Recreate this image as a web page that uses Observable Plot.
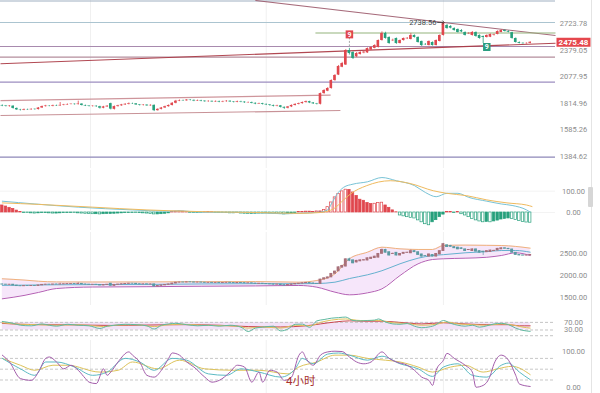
<!DOCTYPE html>
<html><head><meta charset="utf-8">
<script src="https://cdn.jsdelivr.net/npm/d3@7"></script>
<script src="https://cdn.jsdelivr.net/npm/@observablehq/plot@0.6"></script>
<style>
body{margin:0;background:#fff;}
#wrap{position:relative;width:600px;height:393px;overflow:hidden;background:#fff;font-family:Roboto,"Noto Sans CJK SC",sans-serif;}
.panel{position:absolute;left:0;}
.chrome{position:absolute;}
</style></head><body><div id="wrap"></div>
<script>
// ---------------- candle data (4h) ----------------
const opens = [1795,1790,1785,1789,1768,1755,1752,1758,1756,1760,
 1758,1772,1785,1790,1788,1794,1791,1796,1800,1804,
 1806,1803,1808,1795,1790,1786,1788,1784,1770,1782,
 1812,1760,1785,1792,1800,1806,1812,1810,1800,1795,
 1798,1792,1796,1748,1760,1772,1784,1795,1815,1835,
 1840,1838,1845,1842,1836,1840,1835,1830,1833,1828,
 1832,1826,1830,1834,1828,1824,1830,1826,1820,1822,
 1815,1808,1812,1805,1800,1795,1788,1792,1778,1770,
 1782,1795,1805,1812,1822,1830,1818,1810,
 1806,1907,1930,1957,2038,2095,2180,2205,2374,2350,
 2300,2326,2345,2345,2380,2400,2411,2498,2589,2537,
 2495,2524,2460,2498,2520,2511,2563,2537,2486,2448,
 2435,2473,2435,2486,2563,2696,2682,2655,2642,2628,
 2602,2585,2563,2602,2563,2550,2537,2540,2563,2576,
 2602,2628,2615,2600,2524,2473,2462,2458,2462];
const closes = [1790,1786,1789,1768,1755,1752,1758,1756,1760,1758,
 1772,1785,1790,1788,1794,1791,1796,1800,1804,1806,
 1803,1808,1795,1790,1786,1788,1784,1770,1782,1788,
 1762,1785,1792,1800,1806,1812,1810,1800,1795,1798,
 1792,1796,1748,1760,1772,1784,1795,1815,1835,1840,
 1838,1845,1842,1836,1840,1835,1830,1833,1828,1832,
 1826,1830,1834,1828,1824,1830,1826,1820,1822,1815,
 1808,1812,1805,1800,1795,1788,1792,1778,1770,1782,
 1795,1805,1812,1822,1830,1818,1810,1806,
 1907,1937,1957,2038,2091,2189,2222,2374,2338,2280,
 2338,2350,2355,2398,2411,2435,2498,2589,2524,2460,
 2500,2460,2498,2524,2526,2563,2537,2473,2435,2445,
 2486,2435,2498,2563,2724,2655,2660,2628,2602,2610,
 2563,2590,2602,2550,2524,2537,2563,2576,2570,2615,
 2628,2615,2605,2524,2473,2462,2458,2462,2475.48];
const highs = [1800,1795,1794,1792,1772,1760,1763,1762,1765,1764,
 1776,1790,1796,1794,1798,1798,1822,1805,1809,1811,
 1810,1835,1810,1798,1793,1793,1792,1788,1787,1794,
 1816,1790,1797,1805,1811,1818,1816,1813,1803,1803,
 1802,1801,1800,1765,1777,1789,1800,1822,1842,1846,
 1845,1850,1849,1846,1845,1843,1838,1838,1836,1837,
 1835,1835,1840,1838,1831,1835,1834,1829,1827,1826,
 1818,1816,1815,1808,1803,1798,1797,1795,1781,1786,
 1800,1810,1817,1827,1836,1834,1822,1814,
 1912,1945,1965,2045,2100,2200,2235,2385,2400,2360,
 2350,2360,2365,2405,2420,2445,2505,2610,2605,2545,
 2515,2530,2505,2530,2535,2590,2570,2545,2490,2460,
 2492,2480,2505,2570,2738.56,2710,2695,2665,2650,2640,
 2610,2600,2615,2610,2570,2555,2570,2582,2580,2625,
 2640,2640,2625,2605,2530,2480,2470,2468,2482];
const lows = [1784,1781,1780,1762,1750,1745,1748,1750,1752,1752,
 1754,1768,1780,1783,1783,1786,1787,1792,1796,1800,
 1798,1799,1790,1785,1781,1780,1778,1762,1765,1777,
 1755,1754,1780,1787,1795,1800,1804,1795,1790,1790,
 1786,1788,1740,1744,1755,1767,1779,1790,1810,1830,
 1832,1834,1837,1830,1832,1829,1824,1825,1822,1823,
 1820,1821,1825,1822,1818,1820,1820,1814,1814,1810,
 1802,1804,1799,1794,1788,1782,1783,1772,1760,1764,
 1776,1790,1800,1807,1816,1812,1804,1800,
 1800,1900,1925,1950,2030,2090,2175,2200,2320,2268,
 2290,2320,2335,2340,2375,2395,2405,2490,2515,2450,
 2485,2450,2455,2490,2510,2505,2530,2465,2423,2435,
 2430,2428,2430,2480,2555,2645,2650,2620,2595,2600,
 2555,2575,2555,2540,2515,2460,2530,2535,2555,2570,
 2598,2608,2598,2515,2465,2455,2452,2452,2456];

// price axis labels and drawn levels
const axisPrices = [2723.78, 2379.05, 2077.95, 1814.96, 1585.26, 1384.62];
const lastPrice = 2475.48;
const levelPrices = [3054, 2738.56, 2423, 2295, 2021, 1380];
const levelColors = ["#9fb0c2", "#abc4d0", "#a88aae", "#b48e9c", "#9c8ec0", "#8e87b8"];
const trendFrom = [[-0.5, 2219], [70, 3062], [-0.5, 1840], [-0.5, 1705]];
const trendTo   = [[153, 2464], [153, 2562], [90.8, 1892], [93.5, 1749]];
const trendColors = ["#a8343f", "#9c5a6c", "#c98a90", "#c2868c"];
const greenLevel = {from: 86.6, to: 153, p: 2595};
const markerIdx = [96, 134];
const markerPrice = [2577, 2417];
const markerColor = ["#e0474e", "#2a9d80"];
const gridIdx = [24.4, 73, 122];

// MACD
const macdHist = [33,28,22,17,9,2,
 -2,-3,-4,-5,-4,-3,-3,-4,-5,-5,-4,-3,-3,-2,-3,-4,-5,-6,-7,-8,-8,-9,-8,-7,-7,-6,-5,-4,-3,-3,-2,-3,-3,-4,-5,-7,-9,-9,-8,-6,-4,
 2,4,5,4,2,-1,-2,-2,-1,1,2,1,-1,-2,-3,-3,-4,-4,-3,-5,-6,-7,-7,-6,-5,-5,-4,-5,-6,-7,-8,-9,-8,-6,-3,2,3,4,4,3,5,
 5,12,25,47,71,87,99,107,106,94,78,60,55,45,40,41,45,46,33,22,
 10,1,-14,-18,-22,-25,-28,-37,-46,-55,-60,-46,-36,-22,-10,3,2,-2,2,-8,
 -14,-22,-30,-37,-42,-46,-44,-46,-42,-38,-33,-30,-28,-30,-35,-40,-44,-47,-48];
const difIdx = [0,9,21,36,46,49,51,55,65,78,83,88,90,91,92.5,94.4,97,101,105,109,114,117,120,123,126,129,134,138,141,145,146];
const difVal = [53,40,25,12,6,8,6,1,1,-6,-3,2,12,40,84,118,133,144,164,149,126,94,74,90,90,71,53,40,33,12,2];
const deaIdx = [0,10,25,40,55,70,82,88,91.6,94.4,96.3,100.8,107.3,112.8,119.2,122.9,128.4,134,139.6,145,146.5];
const deaVal = [45,38,25,12,4,0,-4,0,17,59,87,126,149,136,102,90,79,59,45,35,28];

// BOLL
const bollIdx = [0,6,10,15,25,40,55,70,82,87,92,96,101,105,110,115,119,122,128,134,138,142,146];
const bollUp  = [1924,1895,1868,1852,1850,1852,1858,1860,1846,1885,2038,2385,2537,2652,2614,2600,2600,2691,2700,2695,2691,2670,2630];
const bollMid = [1772,1778,1782,1786,1790,1795,1805,1812,1810,1815,1846,1930,2016,2110,2270,2399,2460,2480,2523,2550,2576,2576,2537];
const bollLow = [1463,1540,1610,1700,1735,1742,1752,1760,1770,1731,1616,1555,1601,1693,2000,2270,2369,2385,2399,2420,2461,2523,2461];

// RSI
const rsiBand = [30, 70];
const rsiGIdx = [0,3,5,8,11,13,15,18,21,24,27,29,31,34,37,40,42,44,46,48,51,54,57,60,63,66,68,70,72,75,77,79,81,83,85,87,89,91,93,95,97,99,101,103,104,106,108,110,112,114,116,118,120,121,122,124,126,128,130,132,134,136,138,140,142,144,146];
const rsiGVal = [75,65,55,52,62,55,50,60,55,52,38,50,55,60,58,52,35,55,62,65,58,52,55,50,55,45,22,40,45,50,25,35,60,61,44,78,85,92,95,98,80,78,80,82,88,72,62,60,64,50,42,46,58,72,80,65,55,50,55,45,52,62,65,58,40,28,23];
const rsiYIdx = [0,5,10,15,20,25,28,32,37,42,46,50,55,60,65,68,72,77,81,85,88,91,95,99,104,108,112,116,120,123,126,130,134,138,141,144,146];
const rsiYVal = [68,60,58,55,58,52,48,56,58,48,58,60,55,53,50,40,46,40,55,52,70,82,88,80,80,68,64,55,60,72,62,58,55,62,57,45,40];
const rsiRIdx = [0,5,10,20,30,40,50,60,68,77,84,88,92,96,100,105,110,116,122,128,134,140,143,146];
const rsiRVal = [65,60,58,57,54,56,58,55,48,46,52,62,72,78,76,76,70,62,68,62,58,58,52,52];

// KDJ
const kdjJIdx = [0,2,5,8,10,12,13,15,17,19,21,23,24,26,28,29,30,32,35,36,38,40,42,44,46,47,49,51,53,56,58,60,63,65,67,69,71,72,74,76,78,80,82,83,84,86,88,90,92,94,96,98,100,102,105,107,109,112,114,116,118,119,120,122,123,125,128,130,131,133,135,136,138,140,142,143,146];
const kdjJVal = [89,70,24,19,42,80,84,70,51,61,47,24,14,10,51,33,42,70,98,89,70,33,28,47,80,95,89,70,56,28,14,19,42,61,56,14,42,14,47,42,19,28,88,98,80,61,89,98,100,99,84,70,65,70,98,80,70,61,47,28,19,5,47,75,94,80,61,42,0,5,33,65,89,75,33,9,2];
const kdjKIdx = [0,5,9,12,15,20,25,29,34,38,42,47,51,57,62,66,71,77,81,83,86,90,93,96,101,105,110,115,119,122,126,130,134,138,140,143,146];
const kdjKVal = [80,51,33,70,70,56,33,42,80,70,47,80,75,37,33,51,42,28,51,80,65,92,95,89,75,86,65,51,30,56,65,33,28,61,67,42,21];
const kdjDIdx = [0,5,9,14,18,27,32,36,43,49,56,64,71,79,82,87,92,96,101,106,110,115,119,124,128,133,137,141,146];
const kdjDVal = [80,61,47,61,61,42,47,70,51,75,51,47,47,37,56,70,89,89,80,75,70,56,42,56,61,42,51,58,35];
const kdjDash = [80, 50, 20];

// ---------------- build ----------------
const RED = "#e0474e", GREEN = "#26a07c";
const N = closes.length;
const candles = d3.range(N).map(i => ({i, o: opens[i], h: highs[i], l: lows[i], c: closes[i]}));
const isUp = d => d.c >= d.o;
const pts = (idx, val) => idx.map((x, k) => ({x, v: val[k]}));
const wrap = document.getElementById("wrap");
const FONT = "Roboto, 'Noto Sans', sans-serif";
const XS = {domain: [-0.5, 153], axis: null};
function panel(top, height, y, marks) {
  const p = Plot.plot({width: 600, height, marginLeft: 0, marginRight: 45, marginTop: 0, marginBottom: 0,
    x: XS, y: {...y, axis: null, label: null}, style: {background: "transparent", fontFamily: FONT, overflow: "visible"}, marks});
  const d = document.createElement("div");
  d.className = "panel"; d.style.top = top + "px";
  d.appendChild(p); wrap.appendChild(d);
  return p;
}
const axis = (ticks, fmt) => Plot.axisY(ticks, {anchor: "right", label: null, tickSize: 0, tickPadding: 18, textAnchor: "middle",
  tickFormat: fmt || (d => d.toFixed(2)), fontSize: 7.5, color: "#8c8c8c"});
const grid = Plot.ruleX(gridIdx, {stroke: "#f0f0f0"});
const rectSym = (w, h) => ({draw(ctx) { ctx.rect(-w / 2, -h / 2, w, h); }});

// main panel
const levels = levelPrices.map((p, k) => ({p, c: levelColors[k]}));
const trends = trendFrom.map((f, k) => ({x1: f[0], y1: f[1], x2: trendTo[k][0], y2: trendTo[k][1], c: trendColors[k]}));
const markers = markerIdx.map((i, k) => ({i, p: markerPrice[k], c: markerColor[k]}));
const peakI = d3.maxIndex(highs);
const peak = candles[peakI];
panel(0, 168, {type: "log", domain: [1302.5, 3061.9]}, [
  grid,
  Plot.ruleY(levels, {y: "p", stroke: "c", strokeWidth: 1.1}),
  Plot.link(trends, {x1: "x1", y1: "y1", x2: "x2", y2: "y2", stroke: "c", strokeWidth: 1.1, strokeOpacity: 0.9}),
  Plot.link([greenLevel], {x1: "from", x2: "to", y1: "p", y2: "p", stroke: "#93b47c", strokeWidth: 1.1}),
  Plot.ruleX([markers[0]], {x: "i", y1: "p", y2: d => highs[d.i], stroke: "#a9a9a9", strokeDasharray: "2,1.5"}),
  Plot.ruleX(candles, {x: "i", y1: "l", y2: "h", stroke: d => isUp(d) ? RED : GREEN, strokeWidth: 0.8}),
  Plot.rect(candles, {x1: d => d.i - 0.36, x2: d => d.i + 0.36, y1: "o", y2: "c", fill: d => isUp(d) ? RED : GREEN}),
  axis(axisPrices),
  Plot.dot([lastPrice], {y: d => d, frameAnchor: "right", dx: 18, symbol: rectSym(34, 9), fill: "#e5474d", stroke: null}),
  Plot.text([lastPrice], {y: d => d, frameAnchor: "right", dx: 18, text: d => d.toFixed(2), fill: "#fff", fontWeight: "bold", fontSize: 8, textAnchor: "middle"}),
  Plot.dot(markers, {x: "i", y: "p", symbol: rectSym(7.5, 8), fill: "c", stroke: null}),
  Plot.text(markers, {x: "i", y: "p", text: () => "9", fill: "#fff", fontSize: 7, fontWeight: "bold"}),
  Plot.link([peak], {x1: d => d.i - 1.7, x2: "i", y1: "h", y2: "h", stroke: "#333", strokeWidth: 0.8, markerEnd: "arrow"}),
  Plot.text([peak], {x: "i", y: "h", text: d => d.h.toFixed(2), dx: -7, textAnchor: "end", fontSize: 7.5, fill: "#444"})
]);

// MACD panel
const hist = macdHist.map((v, i) => {
  const prev = i > 0 ? macdHist[i - 1] : v;
  const col = v >= 0 ? RED : GREEN;
  const hollow = Math.abs(v) > Math.abs(prev);
  return {i, v, col, fill: hollow ? "#ffffff" : col};
});
panel(170, 60, {domain: [-84.5, 197]}, [
  grid,
  Plot.ruleY([0, 100], {stroke: "#f3f3f3"}),
  Plot.rect(hist, {x1: d => d.i - 0.34, x2: d => d.i + 0.34, y1: 0, y2: "v", fill: "fill", stroke: "col", strokeWidth: 0.7}),
  Plot.line(pts(difIdx, difVal), {x: "x", y: "v", stroke: "#78c3d6", strokeWidth: 1, curve: "monotone-x"}),
  Plot.line(pts(deaIdx, deaVal), {x: "x", y: "v", stroke: "#efba5e", strokeWidth: 1, curve: "monotone-x"}),
  axis([0, 100])
]);

// BOLL panel
const boll = bollIdx.map((x, k) => ({x, u: bollUp[k], m: bollMid[k], l: bollLow[k]}));
panel(232, 73, {domain: [1308.8, 2990.8]}, [
  grid,
  Plot.areaY(boll, {x: "x", y1: "l", y2: "u", fill: "#f6e6fa", curve: "monotone-x"}),
  Plot.line(boll, {x: "x", y: "u", stroke: "#f0b27c", strokeWidth: 1, curve: "monotone-x"}),
  Plot.line(boll, {x: "x", y: "m", stroke: "#65b1cf", strokeWidth: 1, curve: "monotone-x"}),
  Plot.line(boll, {x: "x", y: "l", stroke: "#b45fb4", strokeWidth: 1, curve: "monotone-x"}),
  Plot.ruleX(candles, {x: "i", y1: "l", y2: "h", stroke: d => isUp(d) ? "#a8707a" : "#5b9aa2", strokeWidth: 0.7}),
  Plot.rect(candles, {x1: d => d.i - 0.4, x2: d => d.i + 0.4, y1: "o", y2: "c", fill: d => isUp(d) ? "#a8707a" : "#5b9aa2", insetTop: -0.4, insetBottom: -0.4}),
  axis([1500, 2000, 2500])
]);

// RSI panel
panel(312, 26, {domain: [-14.7, 122]}, [
  Plot.rect([rsiBand], {x1: () => candles[0].i, x2: () => candles[N - 1].i, y1: d => d[0], y2: d => d[1], fill: "#f3e2f8"}),
  Plot.ruleY([70, 30, 0], {stroke: "#c4c4c4", strokeDasharray: "3,2"}),
  Plot.line(pts(rsiRIdx, rsiRVal), {x: "x", y: "v", stroke: "#c9474f", strokeWidth: 1, curve: "monotone-x"}),
  Plot.line(pts(rsiYIdx, rsiYVal), {x: "x", y: "v", stroke: "#e0c25c", strokeWidth: 1, curve: "monotone-x"}),
  Plot.line(pts(rsiGIdx, rsiGVal), {x: "x", y: "v", stroke: "#5fb9a0", strokeWidth: 1, curve: "monotone-x"}),
  axis([30, 70])
]);

// KDJ panel
panel(340, 53, {domain: [-17.5, 129.7]}, [
  grid,
  Plot.ruleY(kdjDash, {stroke: "#c8c8c8", strokeDasharray: "3,2"}),
  Plot.line(pts(kdjDIdx, kdjDVal), {x: "x", y: "v", stroke: "#ddc35a", strokeWidth: 1, curve: "monotone-x"}),
  Plot.line(pts(kdjKIdx, kdjKVal), {x: "x", y: "v", stroke: "#5cbac4", strokeWidth: 1, curve: "monotone-x"}),
  Plot.line(pts(kdjJIdx, kdjJVal), {x: "x", y: "v", stroke: "#a35dab", strokeWidth: 1, curve: "monotone-x"}),
  axis([0, 100])
]);

// caption / chrome
const cap = document.createElement("div");
cap.className = "chrome";
cap.style.cssText = "left:286px;top:374px;font-size:11.5px;color:#a8322e;font-family:Roboto,'Noto Sans CJK SC',sans-serif;line-height:14px;";
cap.textContent = "4小时";
wrap.appendChild(cap);
const vline = document.createElement("div");
vline.className = "chrome";
vline.style.cssText = "left:591px;top:0;width:1px;height:393px;background:#e4e4e4;";
wrap.appendChild(vline);
const sb = document.createElement("div");
sb.className = "chrome";
sb.style.cssText = "left:588px;top:187px;width:5px;height:20px;background:#d6d6d6;border-radius:1px;";
wrap.appendChild(sb);
</script></body></html>
